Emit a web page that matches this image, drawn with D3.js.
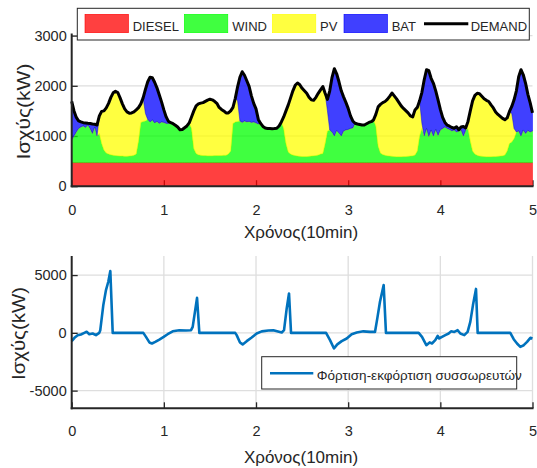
<!DOCTYPE html>
<html><head><meta charset="utf-8">
<script src="https://cdn.jsdelivr.net/npm/d3@7"></script>
<style>
body{margin:0;background:#fff;}
svg text{font-family:"Liberation Sans",Arial,Helvetica,sans-serif;}
</style></head><body>
<svg id="c" width="537" height="468"></svg>
<script>
// ---------- DATA ----------
const timeStep = 0.025;           // sampling of the top chart (x axis units)
const dieselKW = 470;             // constant diesel output
const demand = [
 1690,1500,1370,1300,1280,1265,1260,1253,1250,1240,
 1235,1220,1400,1490,1500,1560,1650,1770,1860,1890,
 1867,1760,1640,1540,1480,1455,1460,1480,1520,1565,
 1640,1760,1930,2080,2170,2160,2070,1960,1820,1680,
 1520,1380,1290,1265,1245,1215,1180,1125,1130,1165,
 1200,1260,1380,1500,1600,1640,1655,1665,1690,1715,
 1733,1720,1690,1650,1570,1530,1500,1460,1460,1500,
 1570,1750,1980,2170,2280,2210,2100,1990,1800,1650,
 1540,1330,1250,1190,1160,1150,1147,1145,1148,1155,
 1200,1280,1380,1500,1620,1760,1900,2010,2055,2020,
 1950,1900,1850,1770,1720,1710,1770,1850,1920,1985,
 1850,1730,1900,2170,2340,2240,2080,1900,1780,1670,
 1550,1400,1300,1253,1240,1230,1220,1220,1245,1270,
 1285,1320,1430,1580,1630,1665,1687,1730,1790,1855,
 1800,1740,1670,1600,1550,1505,1460,1400,1380,1520,
 1570,1700,1870,2120,2320,2300,2150,2050,1900,1720,
 1530,1370,1270,1215,1195,1170,1155,1185,1125,1180,
 1190,1160,1290,1500,1700,1810,1850,1840,1790,1740,
 1710,1687,1620,1560,1480,1430,1390,1350,1325,1360,
 1490,1590,1720,1900,2180,2320,2220,2050,1830,1660,
 1460];
const wind = [
 450,530,610,680,710,730,700,750,680,580,
 710,530,580,380,250,190,170,155,145,140,
 135,130,130,125,125,130,135,145,170,430,
 800,820,830,860,810,850,790,820,780,810,
 800,780,780,795,775,745,710,655,660,695,
 730,790,680,280,180,155,145,140,140,135,
 135,135,140,140,140,140,145,145,170,230,
 780,810,820,830,800,830,810,820,800,810,
 790,770,780,720,690,680,677,675,678,685,
 730,810,680,380,210,170,150,140,130,125,
 120,120,120,125,130,135,140,150,170,180,
 380,630,650,610,530,640,590,530,630,650,
 660,680,690,783,770,760,750,750,775,800,
 815,850,730,330,190,160,145,135,130,125,
 120,118,118,118,120,122,125,130,135,150,
 230,530,680,530,680,520,650,530,660,540,
 650,680,710,680,660,630,650,610,630,650,
 530,640,680,430,230,170,145,130,125,120,
 118,118,118,120,122,125,130,135,150,230,
 380,410,480,610,630,530,650,580,640,610,
 630];
const pv = [
 0,0,0,0,0,0,0,0,0,0,
 0,0,350,640,780,900,1010,1145,1245,1280,
 1262,1160,1040,945,885,855,855,865,880,665,
 370,470,150,0,0,0,0,0,0,0,
 0,0,0,0,0,0,0,0,0,0,
 0,0,230,750,950,1015,1040,1055,1080,1110,
 1128,1115,1080,1040,960,920,885,845,820,800,
 320,470,410,0,0,0,0,0,0,0,
 0,0,0,0,0,0,0,0,0,0,
 0,0,230,650,940,1120,1280,1400,1455,1425,
 1360,1310,1260,1175,1120,1105,1160,1230,1280,1335,
 1000,400,0,0,0,0,0,0,0,0,
 0,0,0,0,0,0,0,0,0,0,
 0,0,230,780,970,1035,1072,1125,1190,1260,
 1210,1152,1082,1012,960,913,865,800,775,900,
 870,700,100,0,0,0,0,0,0,0,
 0,0,0,0,0,0,0,0,0,0,
 0,0,140,600,1000,1170,1235,1240,1195,1150,
 1122,1099,1032,970,888,835,790,745,705,660,
 640,570,200,0,0,0,0,0,0,0,
 0];
const bat = [
 770,500,290,150,100,65,90,33,100,190,
 55,220,0,0,0,0,0,0,0,0,
 0,0,0,0,0,0,0,0,0,0,
 0,0,480,750,890,840,810,670,570,400,
 250,130,40,0,0,0,0,0,0,0,
 0,0,0,0,0,0,0,0,0,0,
 0,0,0,0,0,0,0,0,0,0,
 0,0,280,870,1010,910,820,700,530,370,
 280,90,0,0,0,0,0,0,0,0,
 0,0,0,0,0,0,0,0,0,0,
 0,0,0,0,0,0,0,0,0,0,
 0,230,780,1090,1340,1130,1020,900,680,550,
 420,250,140,0,0,0,0,0,0,0,
 0,0,0,0,0,0,0,0,0,0,
 0,0,0,0,0,0,0,0,0,0,
 0,0,620,1120,1170,1310,1030,1050,770,710,
 410,220,90,65,65,70,35,105,25,60,
 190,50,0,0,0,0,0,0,0,0,
 0,0,0,0,0,0,0,0,0,0,
 0,140,570,820,1080,1320,1100,1000,720,580,
 360];

// battery charge / discharge (bottom chart)
const batTime = [0,0.03,0.065,0.1,0.137,0.162,0.191,0.227,0.263,0.299,0.31,0.343,0.372,0.397,0.419,0.445,
 0.777,0.806,0.843,0.871,0.907,0.951,0.998,1.041,1.096,1.168,1.24,1.295,1.313,1.36,1.385,
 1.774,1.79,1.826,1.855,1.899,1.953,2.007,2.062,2.134,2.188,2.279,2.304,2.333,2.358,2.38,
 2.76,2.803,2.846,2.882,2.93,2.984,3.038,3.093,3.165,3.237,3.291,3.316,3.345,3.385,3.41,
 3.765,3.801,3.848,3.884,3.909,3.945,3.971,3.985,4.018,4.054,4.09,4.116,4.152,4.188,4.217,4.26,4.296,4.325,4.354,4.387,4.405,
 4.759,4.796,4.832,4.868,4.905,4.941,4.977,5.0];
const batPower = [-720,-430,-200,-140,0,90,-115,-60,-200,0,230,2400,3700,4420,5350,0,
 0,-350,-830,-920,-780,-580,-350,-120,130,230,200,230,520,3030,0,
 0,-200,-830,-1000,-720,-400,-60,130,200,230,30,230,2110,3410,0,
 0,-630,-1350,-1000,-720,-490,-120,30,130,80,80,1250,2690,4130,0,
 0,-350,-1070,-830,-920,-630,-260,-490,-350,-200,-60,130,80,230,-60,-200,80,950,2400,3800,0,
 0,-550,-920,-1210,-1070,-780,-430,-490];

const xTicks = [0,1,2,3,4,5];
const topYTicks = [0,1000,2000,3000];
const botYTicks = [-5000,0,5000];
const seriesKeys = ["DIESEL","WIND","PV","BAT"];
const demandLabel = "DEMAND";
const bottomLegend = "Φόρτιση-εκφόρτιση συσσωρευτών";
const yLabel = "Ισχύς(kW)";
const xLabel = "Χρόνος(10min)";

// ---------- DRAWING ----------
const ink = "#262626", gridC = "#dedede";
const colors = {DIESEL:"#ff0000", WIND:"#00ff00", PV:"#ffff00", BAT:"#0000ff"};
const svg = d3.select("#c");
const X0 = 71.7, X1 = 532.5;
const x = d3.scaleLinear().domain([0,5]).range([X0,X1]);
const yT = d3.scaleLinear().domain([0,3000]).range([186.2,35.6]);
const yB = d3.scaleLinear().domain([-6530,6650]).range([408.3,256]);

const time = demand.map((d,i)=> +(i*timeStep).toFixed(3));
const rows = time.map((t,i)=>({t, DIESEL:dieselKW, WIND:wind[i], PV:pv[i], BAT:bat[i]}));
const stacked = d3.stack().keys(seriesKeys)(rows);

function styleAxis(g, fs){
  g.select(".domain").remove();
  g.selectAll(".tick line").attr("stroke", ink).attr("stroke-width", 1.3);
  g.selectAll(".tick text").attr("fill", ink).attr("font-size", fs)
    .attr("font-family", '"Liberation Sans",Arial,sans-serif');
}

// ----- top chart -----
svg.append("g").selectAll("line").data(topYTicks.filter(v=>v>0)).join("line")
  .attr("x1",X0).attr("x2",X1).attr("y1",d=>yT(d)).attr("y2",d=>yT(d))
  .attr("stroke",gridC).attr("stroke-width",1.3);

const tx = svg.append("g").attr("transform",`translate(0,${yT(0)})`)
  .call(d3.axisBottom(x).tickValues(xTicks).tickFormat(d=>String(d)).tickSizeInner(-6).tickSizeOuter(0).tickPadding(18.5));
styleAxis(tx, 14.5);
const ty = svg.append("g").attr("transform",`translate(${X0},0)`)
  .call(d3.axisLeft(yT).tickValues(topYTicks).tickFormat(d=>String(d)).tickSizeInner(-6).tickSizeOuter(0).tickPadding(5));
styleAxis(ty, 14.5);

const area = d3.area().x(d=>x(d.data.t)).y0(d=>yT(d[0])).y1(d=>yT(d[1]));
svg.append("g").selectAll("path").data(stacked).join("path")
  .attr("d", area).attr("fill", d=>colors[d.key]).attr("fill-opacity",0.75)
  .attr("stroke", d=>colors[d.key]).attr("stroke-width",0.6).attr("stroke-opacity",0.8);

svg.append("path").datum(demand)
  .attr("d", d3.line().x((d,i)=>x(time[i])).y(d=>yT(d)))
  .attr("fill","none").attr("stroke","#000").attr("stroke-width",3).attr("stroke-linejoin","round");

svg.append("line").attr("x1",X0).attr("x2",X0).attr("y1",yT(0)+1).attr("y2",33.5).attr("stroke",ink).attr("stroke-width",2);
svg.append("line").attr("x1",X0-1).attr("x2",X1+1).attr("y1",yT(0)).attr("y2",yT(0)).attr("stroke",ink).attr("stroke-width",2);

svg.append("text").attr("transform",`translate(29.5,111.5) rotate(-90)`).attr("text-anchor","middle")
  .attr("font-size",18.5).attr("textLength",96).attr("lengthAdjust","spacingAndGlyphs")
  .attr("fill",ink).text(yLabel);
svg.append("text").attr("x",301).attr("y",238).attr("text-anchor","middle")
  .attr("font-size",17).attr("fill",ink).text(xLabel);

// top legend
const lg = svg.append("g");
lg.append("rect").attr("x",77.3).attr("y",8.3).attr("width",452).attr("height",31.7)
  .attr("fill","#fff").attr("stroke",ink).attr("stroke-width",1);
const patchX = {DIESEL:85, WIND:184.3, PV:272.3, BAT:344};
const textX = {DIESEL:132.7, WIND:232.3, PV:320, BAT:391.7, DEMAND:470.7};
seriesKeys.forEach(k=>{
  lg.append("rect").attr("x",patchX[k]).attr("y",14.3).attr("width",43.5).attr("height",18.4)
    .attr("fill",colors[k]).attr("fill-opacity",0.75).attr("stroke",colors[k]).attr("stroke-width",0.6);
  lg.append("text").attr("x",textX[k]).attr("y",30.5).attr("font-size",13).attr("fill",ink).text(k);
});
lg.append("line").attr("x1",424).attr("x2",468.3).attr("y1",23.7).attr("y2",23.7).attr("stroke","#000").attr("stroke-width",3);
lg.append("text").attr("x",textX.DEMAND).attr("y",30.5).attr("font-size",13).attr("fill",ink).text(demandLabel);

// ----- bottom chart -----
const gb = svg.append("g");
gb.selectAll("line.v").data(xTicks.filter(v=>v>0)).join("line").attr("class","v")
  .attr("x1",d=>x(d)).attr("x2",d=>x(d)).attr("y1",yB.range()[0]).attr("y2",yB.range()[1])
  .attr("stroke",gridC).attr("stroke-width",1.3);
gb.selectAll("line.h").data(botYTicks).join("line").attr("class","h")
  .attr("x1",X0).attr("x2",X1).attr("y1",d=>yB(d)).attr("y2",d=>yB(d))
  .attr("stroke",gridC).attr("stroke-width",1.3);

const bx = svg.append("g").attr("transform",`translate(0,${yB.range()[0]})`)
  .call(d3.axisBottom(x).tickValues(xTicks).tickFormat(d=>String(d)).tickSizeInner(-6).tickSizeOuter(0).tickPadding(17.5));
styleAxis(bx, 14.5);
const by = svg.append("g").attr("transform",`translate(${X0},0)`)
  .call(d3.axisLeft(yB).tickValues(botYTicks).tickFormat(d=>String(d)).tickSizeInner(-6).tickSizeOuter(0).tickPadding(5));
styleAxis(by, 14.5);

svg.append("path").datum(batPower)
  .attr("d", d3.line().x((d,i)=>x(batTime[i])).y(d=>yB(d)))
  .attr("fill","none").attr("stroke","#0072BD").attr("stroke-width",2.6).attr("stroke-linejoin","round");

svg.append("line").attr("x1",X0).attr("x2",X0).attr("y1",yB.range()[0]+1).attr("y2",yB.range()[1]).attr("stroke",ink).attr("stroke-width",2);
svg.append("line").attr("x1",X0-1).attr("x2",X1+1).attr("y1",yB.range()[0]).attr("y2",yB.range()[0]).attr("stroke",ink).attr("stroke-width",2);

svg.append("text").attr("transform",`translate(24.5,333.5) rotate(-90)`).attr("text-anchor","middle")
  .attr("font-size",18.5).attr("textLength",93).attr("lengthAdjust","spacingAndGlyphs")
  .attr("fill",ink).text(yLabel);
svg.append("text").attr("x",301).attr("y",462.5).attr("text-anchor","middle")
  .attr("font-size",17).attr("fill",ink).text(xLabel);

const bl = svg.append("g");
bl.append("rect").attr("x",261.7).attr("y",356.7).attr("width",255).attr("height",32.3)
  .attr("fill","#fff").attr("stroke",ink).attr("stroke-width",1);
bl.append("line").attr("x1",270).attr("x2",313.3).attr("y1",373.3).attr("y2",373.3).attr("stroke","#0072BD").attr("stroke-width",2.6);
bl.append("text").attr("x",316.7).attr("y",380).attr("font-size",13.5).attr("fill",ink).text(bottomLegend);
</script>
</body></html>
